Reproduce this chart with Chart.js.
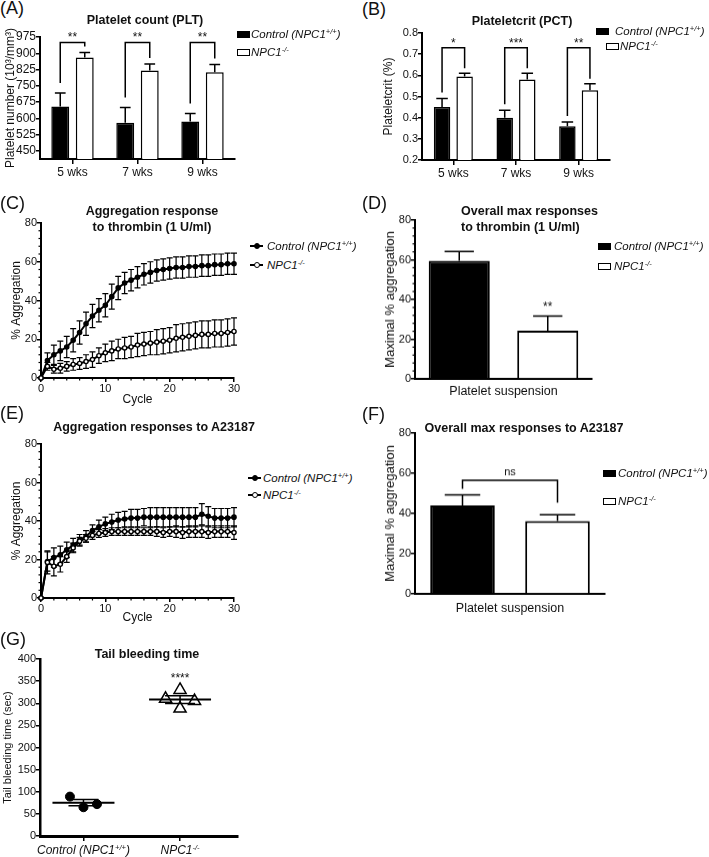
<!DOCTYPE html>
<html>
<head>
<meta charset="utf-8">
<title>Platelet function in NPC1 mice</title>
<script src="https://cdn.jsdelivr.net/npm/chart.js"></script>
<style>
  html, body { margin: 0; padding: 0; background: #fff; }
  #fig { position: relative; width: 709px; height: 857px; overflow: hidden;
         font-family: Arial, "Liberation Sans", Helvetica, sans-serif; color: #111; }
  .box { position: absolute; }
  .lbl { position: absolute; font-size: 18px; line-height: 18px; }
  .ttl { position: absolute; font-size: 12.5px; font-weight: bold; line-height: 16px; white-space: nowrap; }
  .ctr { transform: translateX(-50%); text-align: center; }
  .lg { position: absolute; height: 14px; line-height: 14px; font-size: 11.5px; font-style: italic;
        white-space: nowrap; display: flex; align-items: center; }
  .sw { display: inline-block; width: 13px; height: 7px; box-sizing: border-box; border: 1.5px solid #000; background: #fff; }
  .sw.f { background: #000; }
  .ln { position: relative; display: inline-block; width: 13px; height: 2px; background: #000; }
  .ln b { position: absolute; left: 3.5px; top: -2px; width: 6px; height: 6px; box-sizing: border-box;
          border-radius: 50%; border: 1.5px solid #000; background: #000; }
  .ln b.o { background: #fff; }
  sup { font-size: 7.5px; line-height: 0; vertical-align: 4px; }
  .xl { position: absolute; top: 843px; font-size: 12px; font-style: italic; white-space: nowrap;
        line-height: 14px; transform: translateX(-50%); }
</style>
</head>
<body>
<div id="fig">
  <div class="box" id="boxA"><canvas id="chartA"></canvas></div>
  <div class="box" id="boxB"><canvas id="chartB"></canvas></div>
  <div class="box" id="boxC"><canvas id="chartC"></canvas></div>
  <div class="box" id="boxD"><canvas id="chartD"></canvas></div>
  <div class="box" id="boxE"><canvas id="chartE"></canvas></div>
  <div class="box" id="boxF"><canvas id="chartF"></canvas></div>
  <div class="box" id="boxG"><canvas id="chartG"></canvas></div>

  <div class="lbl" style="left:0;top:-1px">(A)</div>
  <div class="lbl" style="left:362px;top:0">(B)</div>
  <div class="lbl" style="left:0;top:194px">(C)</div>
  <div class="lbl" style="left:362px;top:194px">(D)</div>
  <div class="lbl" style="left:0;top:404px">(E)</div>
  <div class="lbl" style="left:362px;top:405px">(F)</div>
  <div class="lbl" style="left:0;top:630px">(G)</div>

  <div class="ttl ctr" style="left:145px;top:12px">Platelet count (PLT)</div>
  <div class="ttl ctr" style="left:522px;top:13px">Plateletcrit (PCT)</div>
  <div class="ttl ctr" style="left:152px;top:203px">Aggregation response<br>to thrombin (1 U/ml)</div>
  <div class="ttl" style="left:461px;top:203px">Overall max responses<br>to thrombin (1 U/ml)</div>
  <div class="ttl ctr" style="left:154px;top:419px">Aggregation responses to A23187</div>
  <div class="ttl ctr" style="left:524px;top:420px">Overall max responses to A23187</div>
  <div class="ttl ctr" style="left:147px;top:646px">Tail bleeding time</div>

  <div class="xl" id="gx0"></div>
  <div class="xl" id="gx1"></div>
</div>

<script>
// ---- data ----
const weeks = ['5 wks', '7 wks', '9 wks'];
const groups = ['Control (NPC1+/+)', 'NPC1-/-'];

// (A) platelet count
const pltTicks = [450, 525, 600, 675, 750, 825, 900, 975];
const pltControl = [655, 580, 585];
const pltControlSem = [62, 70, 37];
const pltNpc = [880, 820, 812];
const pltNpcSem = [23, 31, 36];
const pltStars = ['**', '**', '**'];

// (B) plateletcrit
const pctTicks = [0.2, 0.3, 0.4, 0.5, 0.6, 0.7, 0.8];
const pctControl = [0.45, 0.40, 0.36];
const pctControlSem = [0.04, 0.035, 0.02];
const pctNpc = [0.595, 0.58, 0.53];
const pctNpcSem = [0.015, 0.03, 0.03];
const pctStars = ['*', '***', '**'];

// (C) aggregation time course, thrombin
const cycleTicks = [0, 10, 20, 30];
const aggTicks = [0, 20, 40, 60, 80];
const cycles = [0, 1, 2, 3, 4, 5, 6, 7, 8, 9, 10, 11, 12, 13, 14, 15, 16, 17, 18, 19, 20, 21, 22, 23, 24, 25, 26, 27, 28, 29, 30];
const thrControl = [0, 9, 12, 14, 16, 19.5, 23.5, 28, 32, 35, 37.5, 42, 46.5, 49, 50.5, 52, 53.5, 54.5, 55.5, 56, 56.5, 57, 57, 57.5, 57.5, 58, 58, 58.5, 58.5, 59, 59];
const thrControlSem = [0, 4, 5, 5, 5.5, 6, 6, 6, 6, 6, 6, 6.5, 6, 5.5, 5.5, 5.5, 5.5, 5.5, 5.5, 5.5, 5.5, 5.5, 5.5, 5.5, 5.5, 5.5, 5.5, 5.5, 5.5, 5.5, 5.5];
const thrNpc = [0, 6, 4.5, 5, 6, 7, 7.5, 8.5, 9.5, 11.5, 13, 14, 15, 15.5, 16, 17, 17.5, 18, 18.5, 19, 19.5, 20.5, 21, 21.5, 22, 22.5, 22.5, 23, 23, 23.5, 24];
const thrNpcSem = [0, 2, 2, 2.5, 2.5, 3, 3, 3.5, 4, 4, 4.5, 5, 5, 5.5, 5.5, 6, 6, 6, 6.5, 6.5, 6.5, 7, 7, 7, 7, 7, 7, 7, 7, 7, 7];

// (D) max response, thrombin
const thrMax = [59.5, 24.3];
const thrMaxSem = [4.7, 7.3];
const thrMaxStars = ['', '**'];

// (E) aggregation time course, A23187
const a23Control = [0, 19, 21, 22.5, 25, 27.5, 30, 32, 35, 37, 38.5, 39.5, 40.5, 41, 41.5, 41.5, 42, 42, 42, 42, 42, 42, 42, 42, 42, 43.5, 42.5, 41.5, 41.5, 41.5, 42];
const a23ControlSem = [0, 5, 5, 4.5, 4, 3.5, 3, 3, 3, 3.5, 3.5, 4, 4, 4, 4.5, 4.5, 4.5, 5, 5, 5, 5, 5, 5, 5, 5, 5.5, 5, 5, 5, 5, 5];
const a23Npc = [0, 18.5, 16.5, 17.5, 21.5, 26, 29.5, 31, 32.5, 33.5, 34, 34.5, 34.5, 34.5, 34.5, 34.5, 34.5, 34.5, 34.5, 34, 34.5, 34.5, 34, 34.5, 34.5, 34.5, 34, 34.5, 34.5, 34.5, 34];
const a23NpcSem = [0, 6, 5, 4, 3, 2.5, 2, 2, 2, 2, 2, 2, 2, 2, 2, 2, 2, 2, 2.5, 2.5, 2.5, 3, 3, 3, 3, 3, 3, 3, 3, 3, 3.5];

// (F) max response, A23187
const a23Max = [44, 36.3];
const a23MaxSem = [5.3, 3.1];
const a23MaxSig = 'ns';

// (G) tail bleeding time
const bleedTicks = [0, 50, 100, 150, 200, 250, 300, 350, 400];
const bleedControl = [89, 65, 72];
const bleedNpc = [310, 330, 288, 305];
const bleedStars = ['', '****'];

// ---- layout / style ----
const FONT = 'Arial, "Liberation Sans", Helvetica, sans-serif';
Chart.defaults.font.family = FONT;
Chart.defaults.color = '#111';
const pad = { left: 0, top: 12, right: 14, bottom: 4 };
const jitterControl = [-0.14, 0, 0.14];
const jitterNpc = [-0.15, 0, 0, 0.15];

const sup = s => s.replace(/([+-]\/[+-])/, '<sup>$1</sup>');

// size a chart box so the plot area lands where the figure has it
function frame(id, p) {
  let yw = p.l - p.yTitleX + p.yFs * 0.6;
  const xh = p.xTitleY != null ? p.xTitleY - p.b + p.xFs * 0.6 : p.xh;
  const left = Math.round(p.l - yw - pad.left);
  yw = p.l - pad.left - left;
  const top = p.t - pad.top;
  const box = document.getElementById(id);
  box.style.left = left + 'px';
  box.style.top = top + 'px';
  box.style.width = (p.r + pad.right - left) + 'px';
  box.style.height = (p.b + xh + pad.bottom - top) + 'px';
  return { yw, xh, left, top };
}

function axis(o) {
  const vertical = o.w != null;
  const a = {
    type: o.type || 'linear',
    beginAtZero: false,
    afterFit: s => { if (vertical) s.width = o.w; else s.height = o.h; },
    ticks: { display: o.labels !== false, autoSkip: false, maxRotation: 0, font: { size: o.fs || 11 },
             padding: o.tp != null ? o.tp : 1, color: '#111' },
    grid: { offset: false, drawOnChartArea: false, drawTicks: o.marks !== false, tickLength: o.tl || 4,
            color: '#000', lineWidth: 1.5 },
    border: { display: true, color: '#000', width: o.bw || 2 },
    title: { display: !!o.title, text: o.title || '', font: { size: o.tfs || 12 }, padding: 0, color: '#111' }
  };
  if (o.min != null) a.min = o.min;
  if (o.max != null) a.max = o.max;
  if (o.ticks) a.afterBuildTicks = s => { s.ticks = o.ticks.map(v => ({ value: v })); };
  return a;
}

function baseOptions(scales) {
  return {
    responsive: true, maintainAspectRatio: false, animation: false, events: [],
    layout: { padding: pad },
    plugins: { legend: { display: false }, tooltip: { enabled: false }, title: { display: false } },
    scales: scales
  };
}

function bar(values, errs, fill, catPct, barPct, bw) {
  return { data: values, errors: errs, backgroundColor: fill, borderColor: '#000', borderWidth: bw || 1.5,
           categoryPercentage: catPct, barPercentage: barPct };
}

function line(values, errs, fill) {
  return { data: cycles.map((c, i) => ({ x: c, y: values[i] })), errors: errs,
           borderColor: '#000', borderWidth: 2, pointRadius: 2.1, pointBorderWidth: 1.4,
           pointBackgroundColor: fill, pointBorderColor: '#000', clip: false, tension: 0, fill: false };
}

const valueOf = raw => (typeof raw === 'object' ? raw.y : raw);

// SEM bars, up only for bars, both ways for the time courses
function errorBars(cfg) {
  const draw = chart => {
    const ctx = chart.ctx, ys = chart.scales.y;
    ctx.save();
    ctx.strokeStyle = '#000';
    ctx.lineWidth = cfg.width || 1.5;
    chart.data.datasets.forEach((ds, d) => {
      if (!ds.errors) return;
      chart.getDatasetMeta(d).data.forEach((el, i) => {
        const v = valueOf(ds.data[i]), e = ds.errors[i];
        if (!e) return;
        const top = ys.getPixelForValue(v + e);
        const bot = cfg.both ? ys.getPixelForValue(v - e) : el.y;
        const half = cfg.cap != null ? cfg.cap / 2 : el.width * cfg.capRatio / 2;
        ctx.beginPath();
        ctx.moveTo(el.x, bot); ctx.lineTo(el.x, top);
        ctx.moveTo(el.x - half, top); ctx.lineTo(el.x + half, top);
        if (cfg.both) { ctx.moveTo(el.x - half, bot); ctx.lineTo(el.x + half, bot); }
        ctx.stroke();
      });
    });
    ctx.restore();
  };
  return {
    id: 'errorBars',
    beforeDatasetsDraw(chart) { if (cfg.under) draw(chart); },
    afterDatasetsDraw(chart) { if (!cfg.under) draw(chart); }
  };
}

const errTop = (chart, d, i) => {
  const ds = chart.data.datasets[d];
  return chart.scales.y.getPixelForValue(ds.data[i] + ds.errors[i]);
};

// significance brackets between two bars
function brackets(cfg) {
  return {
    id: 'brackets',
    afterDatasetsDraw(chart) {
      const ctx = chart.ctx, yl = chart.scales.y.getPixelForValue(cfg.level);
      ctx.save();
      ctx.strokeStyle = '#000'; ctx.lineWidth = 1.5; ctx.fillStyle = '#111';
      ctx.font = cfg.font; ctx.textAlign = 'center'; ctx.textBaseline = 'alphabetic';
      cfg.pairs.forEach(p => {
        const a = chart.getDatasetMeta(p.a[0]).data[p.a[1]];
        const b = chart.getDatasetMeta(p.b[0]).data[p.b[1]];
        ctx.beginPath();
        ctx.moveTo(a.x, errTop(chart, p.a[0], p.a[1]) - cfg.gapL);
        ctx.lineTo(a.x, yl);
        ctx.lineTo(b.x, yl);
        ctx.lineTo(b.x, errTop(chart, p.b[0], p.b[1]) - cfg.gapR);
        ctx.stroke();
        ctx.fillText(p.text, (a.x + b.x) / 2, yl - cfg.lift);
      });
      ctx.restore();
    }
  };
}

// stars above single bars
function stars(cfg) {
  return {
    id: 'stars',
    afterDatasetsDraw(chart) {
      const ctx = chart.ctx;
      ctx.save();
      ctx.fillStyle = '#111'; ctx.font = cfg.font; ctx.textAlign = 'center'; ctx.textBaseline = 'alphabetic';
      cfg.items.forEach(it => {
        if (!it.text) return;
        const el = chart.getDatasetMeta(it.d).data[it.i];
        ctx.fillText(it.text, el.x, errTop(chart, it.d, it.i) - cfg.gap);
      });
      ctx.restore();
    }
  };
}

// small unlabelled ticks between the major ones
function minorTicks(cfg) {
  return {
    id: 'minorTicks',
    afterDraw(chart) {
      const ctx = chart.ctx;
      ctx.save();
      ctx.strokeStyle = '#000'; ctx.lineWidth = 1.2;
      ['x', 'y'].forEach(k => {
        const step = cfg[k];
        if (!step) return;
        const s = chart.scales[k];
        const major = s.ticks.map(t => t.value);
        for (let v = s.min; v <= s.max + 1e-9; v += step) {
          if (major.some(m => Math.abs(m - v) < 1e-6)) continue;
          const px = s.getPixelForValue(v);
          ctx.beginPath();
          if (k === 'y') { ctx.moveTo(s.right - cfg.len, px); ctx.lineTo(s.right, px); }
          else { ctx.moveTo(px, s.top); ctx.lineTo(px, s.top + cfg.len); }
          ctx.stroke();
        }
      });
      ctx.restore();
    }
  };
}

// mean and SEM lines for the scatter, plus stars
function meanSem(cfg) {
  return {
    id: 'meanSem',
    afterDatasetsDraw(chart) {
      const ctx = chart.ctx, xs = chart.scales.x, ys = chart.scales.y;
      ctx.save();
      ctx.strokeStyle = '#000'; ctx.fillStyle = '#111';
      ctx.font = cfg.font; ctx.textAlign = 'center'; ctx.textBaseline = 'alphabetic';
      chart.data.datasets.forEach((ds, d) => {
        const vals = ds.data.map(p => p.y);
        const n = vals.length;
        const m = vals.reduce((s, v) => s + v, 0) / n;
        const sd = Math.sqrt(vals.reduce((s, v) => s + (v - m) * (v - m), 0) / (n - 1));
        const sem = sd / Math.sqrt(n);
        const cx = xs.getPixelForValue(d);
        const ym = ys.getPixelForValue(m), yt = ys.getPixelForValue(m + sem), yb = ys.getPixelForValue(m - sem);
        ctx.lineWidth = 2;
        ctx.beginPath();
        ctx.moveTo(cx - cfg.meanHalf, ym); ctx.lineTo(cx + cfg.meanHalf, ym);
        ctx.stroke();
        ctx.lineWidth = 1.5;
        ctx.beginPath();
        ctx.moveTo(cx, yt); ctx.lineTo(cx, yb);
        ctx.moveTo(cx - cfg.semHalf, yt); ctx.lineTo(cx + cfg.semHalf, yt);
        ctx.moveTo(cx - cfg.semHalf, yb); ctx.lineTo(cx + cfg.semHalf, yb);
        ctx.stroke();
        if (cfg.stars[d]) {
          ctx.fillText(cfg.stars[d], cx, ys.getPixelForValue(Math.max(...vals)) - cfg.gap);
        }
      });
      ctx.restore();
    }
  };
}

// ---- (A) ----
const fA = frame('boxA', { l: 40, t: 37, r: 235, b: 159, yTitleX: 10, yFs: 12, xh: 24 });
new Chart('chartA', {
  type: 'bar',
  data: { labels: weeks, datasets: [
    bar(pltControl, pltControlSem, '#000', 0.754, 0.73),
    bar(pltNpc, pltNpcSem, '#fff', 0.754, 0.73)
  ] },
  options: baseOptions({
    x: axis({ type: 'category', h: fA.xh, fs: 12, tl: 5, tp: 1 }),
    y: axis({ min: 412.5, max: 975, ticks: pltTicks, w: fA.yw, fs: 12, tl: 4, tp: 0,
              title: 'Platelet number (10³/mm³)', tfs: 12 })
  }),
  plugins: [
    errorBars({ capRatio: 0.6 }),
    brackets({ level: 950, gapL: 10, gapR: 6, lift: 1, font: '12px ' + FONT,
               pairs: weeks.map((w, i) => ({ a: [0, i], b: [1, i], text: pltStars[i] })) })
  ]
});

// ---- (B) ----
const fB = frame('boxB', { l: 422, t: 33, r: 610, b: 160, yTitleX: 388, yFs: 12, xh: 24 });
new Chart('chartB', {
  type: 'bar',
  data: { labels: weeks, datasets: [
    bar(pctControl, pctControlSem, '#000', 0.72, 0.73),
    bar(pctNpc, pctNpcSem, '#fff', 0.72, 0.73)
  ] },
  options: baseOptions({
    x: axis({ type: 'category', h: fB.xh, fs: 12, tl: 5, tp: 1 }),
    y: axis({ min: 0.2, max: 0.8, ticks: pctTicks, w: fB.yw, fs: 11, tl: 4, tp: 0,
              title: 'Plateletcrit (%)', tfs: 12 })
  }),
  plugins: [
    errorBars({ capRatio: 0.7 }),
    brackets({ level: 0.73, gapL: 6, gapR: 5, lift: 1, font: '12px ' + FONT,
               pairs: weeks.map((w, i) => ({ a: [0, i], b: [1, i], text: pctStars[i] })) })
  ]
});

// ---- (C) ----
const fC = frame('boxC', { l: 41, t: 223, r: 234, b: 378, yTitleX: 16, yFs: 12, xTitleY: 400, xFs: 12 });
new Chart('chartC', {
  type: 'line',
  data: { datasets: [line(thrNpc, thrNpcSem, '#fff'), line(thrControl, thrControlSem, '#000')] },
  options: baseOptions({
    x: axis({ min: 0, max: 30, ticks: cycleTicks, h: fC.xh, fs: 11, tl: 4, tp: 0, title: 'Cycle', tfs: 12 }),
    y: axis({ min: 0, max: 80, ticks: aggTicks, w: fC.yw, fs: 11, tl: 4, tp: 0, title: '% Aggregation', tfs: 12 })
  }),
  plugins: [errorBars({ both: true, under: true, cap: 6, width: 1.2 }), minorTicks({ x: 2, y: 4, len: 2.5 })]
});

// ---- (D) ----
const fD = frame('boxD', { l: 415, t: 220, r: 592, b: 378, yTitleX: 391, yFs: 13, xTitleY: 391, xFs: 12.5 });
new Chart('chartD', {
  type: 'bar',
  data: { labels: groups, datasets: [bar(thrMax, thrMaxSem, ['#000', '#fff'], 1, 0.69, 2)] },
  options: baseOptions({
    x: axis({ type: 'category', h: fD.xh, labels: false, marks: false, title: 'Platelet suspension', tfs: 12.5 }),
    y: axis({ min: 0, max: 80, ticks: aggTicks, w: fD.yw, fs: 11, tl: 4, tp: 0,
              title: 'Maximal % aggregation', tfs: 13 })
  }),
  plugins: [
    errorBars({ capRatio: 0.48 }),
    stars({ gap: 6, font: '12px ' + FONT, items: groups.map((g, i) => ({ d: 0, i: i, text: thrMaxStars[i] })) }),
    minorTicks({ y: 4, len: 2.5 })
  ]
});

// ---- (E) ----
const fE = frame('boxE', { l: 41, t: 444, r: 234, b: 598, yTitleX: 16, yFs: 12, xTitleY: 618, xFs: 12 });
new Chart('chartE', {
  type: 'line',
  data: { datasets: [line(a23Npc, a23NpcSem, '#fff'), line(a23Control, a23ControlSem, '#000')] },
  options: baseOptions({
    x: axis({ min: 0, max: 30, ticks: cycleTicks, h: fE.xh, fs: 11, tl: 4, tp: 0, title: 'Cycle', tfs: 12 }),
    y: axis({ min: 0, max: 80, ticks: aggTicks, w: fE.yw, fs: 11, tl: 4, tp: 0, title: '% Aggregation', tfs: 12 })
  }),
  plugins: [errorBars({ both: true, under: true, cap: 6, width: 1.2 }), minorTicks({ x: 2, y: 4, len: 2.5 })]
});

// ---- (F) ----
const fF = frame('boxF', { l: 415, t: 433, r: 605, b: 593, yTitleX: 391, yFs: 13, xTitleY: 608, xFs: 12.5 });
new Chart('chartF', {
  type: 'bar',
  data: { labels: groups, datasets: [bar(a23Max, a23MaxSem, ['#000', '#fff'], 1, 0.68, 2)] },
  options: baseOptions({
    x: axis({ type: 'category', h: fF.xh, labels: false, marks: false, title: 'Platelet suspension', tfs: 12.5 }),
    y: axis({ min: 0, max: 80, ticks: aggTicks, w: fF.yw, fs: 11, tl: 4, tp: 0,
              title: 'Maximal % aggregation', tfs: 13 })
  }),
  plugins: [
    errorBars({ capRatio: 0.55 }),
    brackets({ level: 56.5, gapL: 6, gapR: 12, lift: 5, font: '11px ' + FONT,
               pairs: [{ a: [0, 0], b: [0, 1], text: a23MaxSig }] })
  ]
});

// ---- (G) ----
const fG = frame('boxG', { l: 40, t: 659, r: 238, b: 836, yTitleX: 8, yFs: 11, xh: 22 });
const chartG = new Chart('chartG', {
  type: 'scatter',
  data: { datasets: [
    { data: bleedControl.map((v, i) => ({ x: 0 + jitterControl[i], y: v })), pointStyle: 'circle',
      pointRadius: 4.5, backgroundColor: '#000', borderColor: '#000', clip: false },
    { data: bleedNpc.map((v, i) => ({ x: 1 + jitterNpc[i], y: v })), pointStyle: 'triangle',
      pointRadius: 7, backgroundColor: '#fff', borderColor: '#000', borderWidth: 1.5, clip: false }
  ] },
  options: baseOptions({
    x: axis({ min: -0.45, max: 1.6, ticks: [0, 1], h: fG.xh, labels: false, tl: 5, bw: 3 }),
    y: axis({ min: 0, max: 400, ticks: bleedTicks, w: fG.yw, fs: 11, tl: 4, tp: 0, bw: 2.5,
              title: 'Tail bleeding time (sec)', tfs: 11 })
  }),
  plugins: [meanSem({ meanHalf: 31, semHalf: 15, stars: bleedStars, gap: 8, font: '12px ' + FONT })]
});
groups.forEach((g, i) => {
  const el = document.getElementById('gx' + i);
  el.innerHTML = sup(g);
  el.style.left = (fG.left + chartG.scales.x.getPixelForValue(i)) + 'px';
});

// ---- legends ----
const fig = document.getElementById('fig');
function legend(kind, rows) {
  rows.forEach((r, i) => {
    const d = document.createElement('div');
    d.className = 'lg';
    d.style.left = r.x + 'px';
    d.style.top = (r.y - 7) + 'px';
    const mark = kind === 'box'
      ? '<span class="sw' + (i === 0 ? ' f' : '') + '"></span>'
      : '<span class="ln"><b class="' + (i === 0 ? '' : 'o') + '"></b></span>';
    d.innerHTML = mark + '<span style="margin-left:' + r.gap + 'px">' + sup(groups[i]) + '</span>';
    fig.appendChild(d);
  });
}
legend('box', [{ x: 237, y: 34, gap: 1 }, { x: 237, y: 52, gap: 1 }]);
legend('box', [{ x: 596, y: 31, gap: 6 }, { x: 606, y: 46, gap: 1 }]);
legend('line', [{ x: 250, y: 246, gap: 4 }, { x: 250, y: 265, gap: 4 }]);
legend('box', [{ x: 598, y: 246, gap: 3 }, { x: 598, y: 266, gap: 3 }]);
legend('line', [{ x: 248, y: 478, gap: 2 }, { x: 248, y: 495, gap: 2 }]);
legend('box', [{ x: 603, y: 473, gap: 2 }, { x: 603, y: 501, gap: 2 }]);
</script>
</body>
</html>
